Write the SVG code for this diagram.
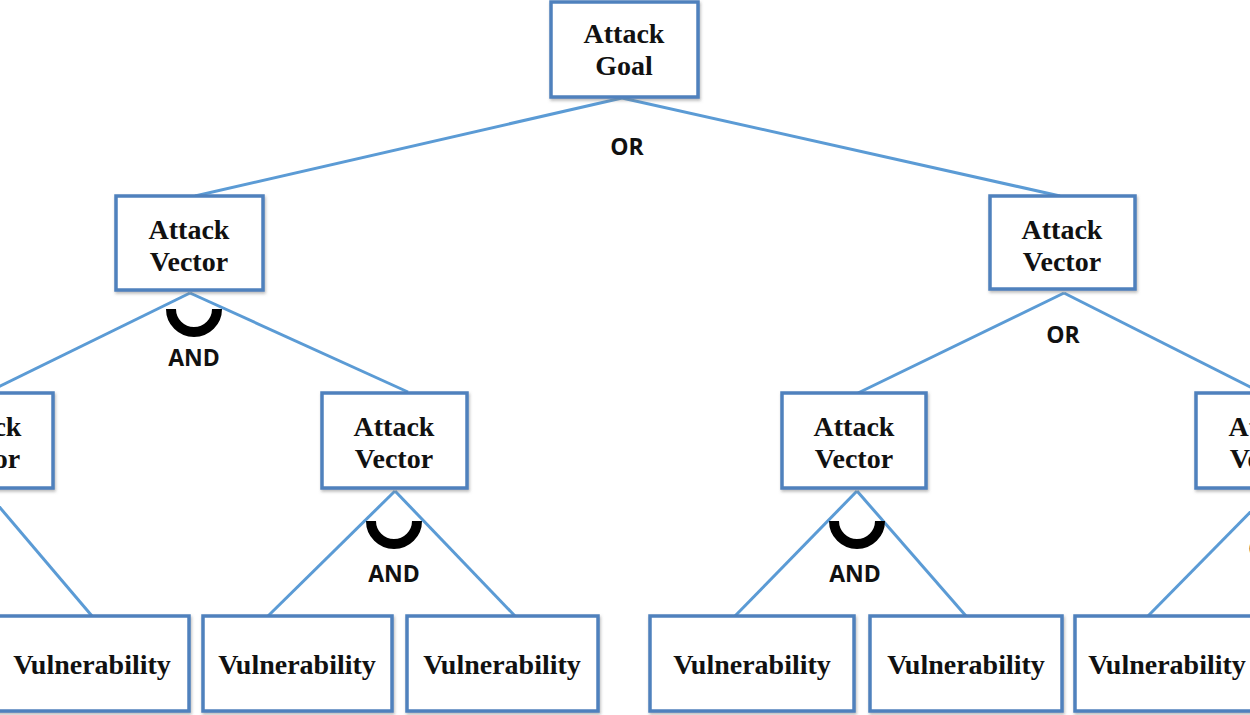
<svg xmlns="http://www.w3.org/2000/svg" width="1250" height="715" viewBox="0 0 1250 715">
<style>
.box{fill:#fff;stroke:#4f81bd;stroke-width:3.5;filter:url(#sh)}
.lbl{font-family:"Liberation Serif",serif;font-weight:bold;font-size:28px;fill:#111;text-anchor:middle}
.gate{font-family:"Open Sans","Liberation Sans",sans-serif;font-weight:bold;font-size:23px;fill:#111;text-anchor:middle}
.edge{stroke:#5b9bd5;stroke-width:3;fill:none}
.arc{stroke:#000;stroke-width:10;fill:none}
</style>
<defs>
<filter id="sh" x="-10%" y="-10%" width="130%" height="130%">
<feDropShadow dx="1" dy="2" stdDeviation="1.5" flood-color="#777" flood-opacity="0.5"/>
</filter>
</defs>
<rect width="1250" height="715" fill="#fff"/>
<g id="connectors">
<line class="edge" x1="622" y1="98" x2="195" y2="196"/>
<line class="edge" x1="622" y1="98" x2="1060" y2="196"/>
<line class="edge" x1="190" y1="293" x2="-14" y2="393"/>
<line class="edge" x1="190" y1="293" x2="408" y2="392"/>
<line class="edge" x1="1064" y1="293" x2="858" y2="393"/>
<line class="edge" x1="1064" y1="293" x2="1262" y2="393"/>
<line class="edge" x1="-15" y1="490" x2="92" y2="616"/>
<line class="edge" x1="395" y1="491" x2="268" y2="616"/>
<line class="edge" x1="395" y1="491" x2="515" y2="616"/>
<line class="edge" x1="857" y1="491" x2="735" y2="616"/>
<line class="edge" x1="857" y1="491" x2="966" y2="616"/>
<line class="edge" x1="1272" y1="490" x2="1148" y2="616"/>
<path class="arc" d="M171 309 A23 23 0 0 0 217 309"/>
<path class="arc" d="M371 521 A23 23 0 0 0 417 521"/>
<path class="arc" d="M834 521 A23 23 0 0 0 880 521"/>
<text class="gate" x="627" y="155">OR</text>
<text class="gate" x="194" y="366">AND</text>
<text class="gate" x="1063" y="343">OR</text>
<text class="gate" x="394" y="582">AND</text>
<text class="gate" x="855" y="582">AND</text>
<text class="gate" x="1265" y="557">OR</text>
</g>
<g id="goal"><rect class="box" x="551" y="2" width="147" height="95"/><text class="lbl" x="624" y="43">Attack</text><text class="lbl" x="624" y="75">Goal</text></g>
<g id="av-l1"><rect class="box" x="116" y="196" width="147" height="94"/><text class="lbl" x="189" y="239">Attack</text><text class="lbl" x="189" y="271">Vector</text></g>
<g id="av-r1"><rect class="box" x="990" y="196" width="145" height="93"/><text class="lbl" x="1062" y="239">Attack</text><text class="lbl" x="1062" y="271">Vector</text></g>
<g id="av-l2a"><rect class="box" x="-94" y="393" width="147" height="95"/><text class="lbl" x="-19" y="436">Attack</text><text class="lbl" x="-19" y="468">Vector</text></g>
<g id="av-l2b"><rect class="box" x="322" y="393" width="145" height="95"/><text class="lbl" x="394" y="436">Attack</text><text class="lbl" x="394" y="468">Vector</text></g>
<g id="av-r2a"><rect class="box" x="782" y="393" width="144" height="95"/><text class="lbl" x="854" y="436">Attack</text><text class="lbl" x="854" y="468">Vector</text></g>
<g id="av-r2b"><rect class="box" x="1196" y="393" width="146" height="95"/><text class="lbl" x="1269" y="436">Attack</text><text class="lbl" x="1269" y="468">Vector</text></g>
<g id="v1"><rect class="box" x="-5" y="616" width="194" height="95"/><text class="lbl" x="92" y="674">Vulnerability</text></g>
<g id="v2"><rect class="box" x="203" y="616" width="189" height="95"/><text class="lbl" x="297" y="674">Vulnerability</text></g>
<g id="v3"><rect class="box" x="407" y="616" width="191" height="95"/><text class="lbl" x="502" y="674">Vulnerability</text></g>
<g id="v4"><rect class="box" x="650" y="616" width="204" height="95"/><text class="lbl" x="752" y="674">Vulnerability</text></g>
<g id="v5"><rect class="box" x="870" y="616" width="192" height="95"/><text class="lbl" x="966" y="674">Vulnerability</text></g>
<g id="v6"><rect class="box" x="1075" y="616" width="190" height="95"/><text class="lbl" x="1167" y="674">Vulnerability</text></g>
</svg>
